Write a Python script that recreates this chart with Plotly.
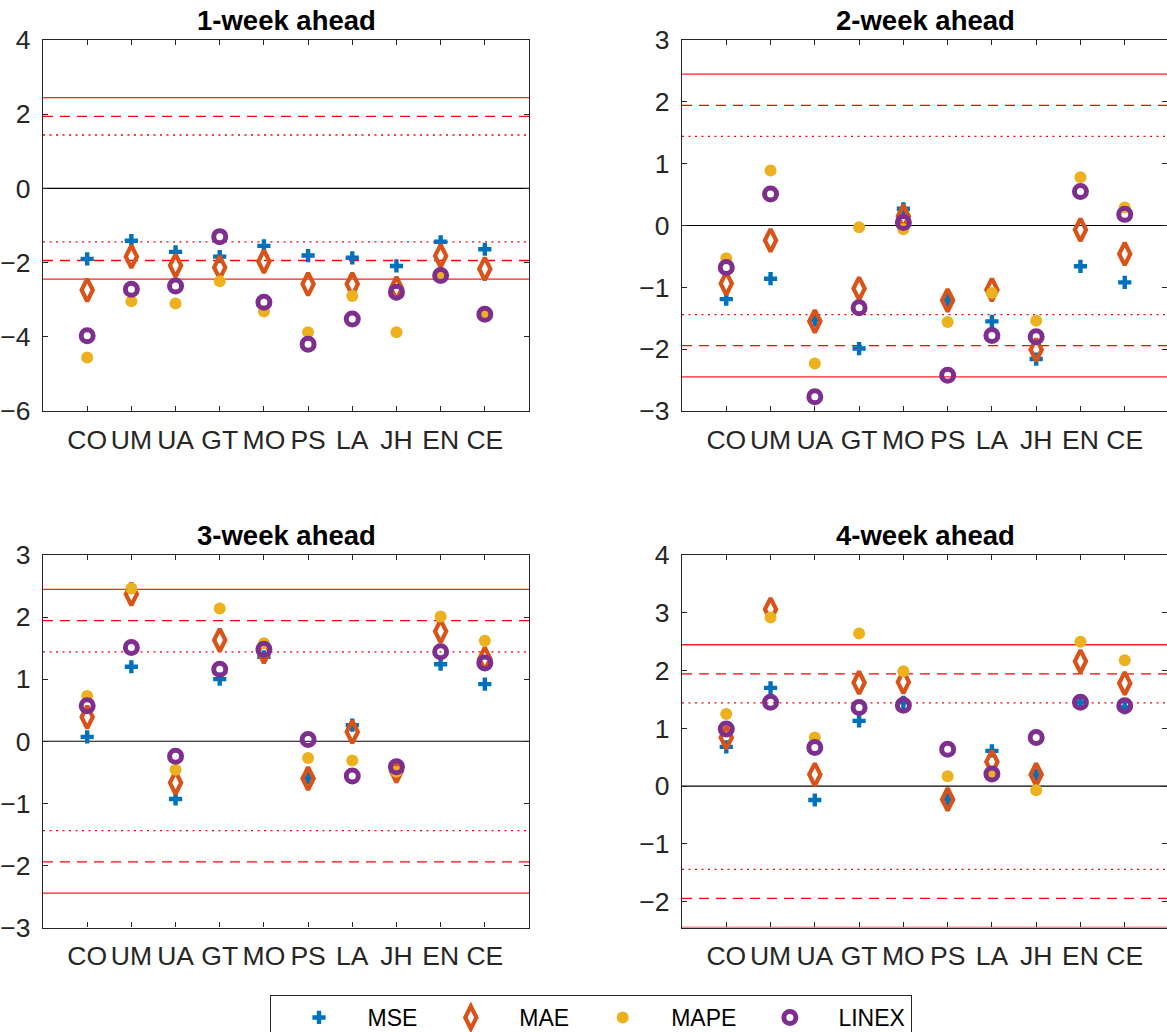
import plotly.graph_objects as go

# Forecast-comparison test statistics for ten models, four loss functions, four horizons
models = ["CO", "UM", "UA", "GT", "MO", "PS", "LA", "JH", "EN", "CE"]
horizons = ["1-week ahead", "2-week ahead", "3-week ahead", "4-week ahead"]

mse_1 = [-1.90, -1.41, -1.71, -1.84, -1.55, -1.81, -1.87, -2.09, -1.44, -1.64]
mae_1 = [-2.74, -1.84, -2.08, -2.13, -1.97, -2.58, -2.58, -2.69, -1.82, -2.17]
mape_1 = [-4.56, -3.04, -3.10, -2.50, -3.32, -3.88, -2.90, -3.88, -2.38, -3.33]
linex_1 = [-3.97, -2.72, -2.63, -1.30, -3.07, -4.20, -3.52, -2.80, -2.35, -3.39]

mse_2 = [-1.19, -0.86, -1.53, -1.99, 0.27, -1.21, -1.55, -2.16, -0.66, -0.92]
mae_2 = [-0.94, -0.24, -1.55, -1.02, 0.15, -1.21, -1.04, -2.01, -0.07, -0.46]
mape_2 = [-0.53, 0.89, -2.23, -0.03, -0.06, -1.56, -1.09, -1.54, 0.78, 0.29]
linex_2 = [-0.68, 0.51, -2.77, -1.33, 0.05, -2.42, -1.78, -1.80, 0.55, 0.18]

mse_3 = [0.07, 1.20, -0.93, 1.00, 1.36, -0.59, 0.26, -0.44, 1.24, 0.92]
mae_3 = [0.39, 2.37, -0.67, 1.63, 1.44, -0.60, 0.15, -0.48, 1.77, 1.33]
mape_3 = [0.73, 2.46, -0.46, 2.14, 1.58, -0.27, -0.31, -0.49, 2.01, 1.62]
linex_3 = [0.57, 1.51, -0.24, 1.16, 1.48, 0.03, -0.56, -0.41, 1.44, 1.26]

mse_4 = [0.68, 1.70, -0.24, 1.13, 1.45, -0.23, 0.61, 0.19, 1.45, 1.36]
mae_4 = [0.84, 3.06, 0.20, 1.79, 1.80, -0.23, 0.42, 0.20, 2.16, 1.78]
mape_4 = [1.25, 2.92, 0.84, 2.64, 1.99, 0.17, 0.21, -0.07, 2.50, 2.18]
linex_4 = [0.99, 1.45, 0.67, 1.36, 1.40, 0.64, 0.21, 0.84, 1.45, 1.39]

mse = [mse_1, mse_2, mse_3, mse_4]
mae = [mae_1, mae_2, mae_3, mae_4]
mape = [mape_1, mape_2, mape_3, mape_4]
linex = [linex_1, linex_2, linex_3, linex_4]

# Critical values (t distribution, 6 degrees of freedom)
crit_solid = 2.447
crit_dash = 1.943
crit_dot = 1.440

y_ranges = [[-6, 4], [-3, 3], [-3, 3], [-2.447, 4]]
y_ticks = [[-6, -4, -2, 0, 2, 4], [-3, -2, -1, 0, 1, 2, 3],
           [-3, -2, -1, 0, 1, 2, 3], [-2, -1, 0, 1, 2, 3, 4]]

W, H = 1167, 1032
FONT = "Liberation Sans"
TICK_FONT = "Liberation Sans Narrow, Liberation Sans"
AX_COLOR = "#262626"

# panel placement in pixels: (left, right, top, bottom)
left_x = (43, 529)
right_x = (682, 1167)
top_y = (40, 411)
bot_y = (555, 927.5)
panels = [(left_x, top_y), (right_x, top_y), (left_x, bot_y), (right_x, bot_y)]
# the right column is clipped by the page edge; keep the same x scale
x_full = 11.0
x_right_max = x_full * (1167 - 682) / (1169 - 682)

series = [
    ("MSE", mse, dict(symbol="cross", size=11, color="#0072BD", line=dict(width=0))),
    ("MAE", mae, dict(symbol="diamond-tall-open", size=16, color="#D95319",
                      line=dict(width=4.2, color="#D95319"))),
    ("MAPE", mape, dict(symbol="circle", size=12, color="#EDB120", line=dict(width=0))),
    ("LINEX", linex, dict(symbol="circle-open", size=12, color="#7E2F8E",
                          line=dict(width=5, color="#7E2F8E"))),
]

fig = go.Figure()
xpos = list(range(1, len(models) + 1))

for p in range(4):
    sfx = "" if p == 0 else str(p + 1)
    for name, data, marker in series:
        fig.add_trace(go.Scatter(
            x=xpos, y=data[p], mode="markers", name=name, marker=marker,
            xaxis="x" + sfx, yaxis="y" + sfx, showlegend=(p == 0),
            cliponaxis=False,
        ))

layout = dict(
    template="none",
    width=W, height=H, margin=dict(l=0, r=0, t=0, b=0, autoexpand=False),
    paper_bgcolor="white", plot_bgcolor="white",
    font=dict(family=FONT, size=25, color=AX_COLOR),
    showlegend=True,
    legend=dict(
        orientation="h", x=269.5 / W, xanchor="left", y=1 - 995 / H, yanchor="top",
        bordercolor=AX_COLOR, borderwidth=1, bgcolor="white",
        font=dict(family=FONT, size=23, color="black"), itemwidth=87,
    ),
)

shapes = []
annotations = []
for p, ((x0, x1), (y0, y1)) in enumerate(panels):
    sfx = "" if p == 0 else str(p + 1)
    xr = [0, x_right_max] if p in (1, 3) else [0, x_full]
    layout["xaxis" + sfx] = dict(
        domain=[x0 / W, x1 / W], range=xr, anchor="y" + sfx, automargin=False,
        tickmode="array", tickvals=xpos, ticktext=models,
        ticks="inside", ticklen=5, tickwidth=1, tickcolor=AX_COLOR,
        showline=True, linecolor=AX_COLOR, linewidth=1.3, mirror="ticks",
        showgrid=False, zeroline=False, ticklabelstandoff=5,
        tickfont=dict(family=TICK_FONT, size=26.5, color=AX_COLOR),
    )
    layout["yaxis" + sfx] = dict(
        domain=[1 - y1 / H, 1 - y0 / H], range=y_ranges[p], anchor="x" + sfx,
        automargin=False,
        tickmode="array", tickvals=y_ticks[p],
        ticks="inside", ticklen=5, tickwidth=1, tickcolor=AX_COLOR,
        showline=True, linecolor=AX_COLOR, linewidth=1.3, mirror="ticks",
        showgrid=False, zeroline=False, ticklabelstandoff=6,
        tickfont=dict(family=TICK_FONT, size=26.5, color=AX_COLOR),
    )
    xref = "x" + sfx + " domain"
    yref = "y" + sfx
    lines = [
        (0, "black", "solid", 1.2),
        (crit_solid, "#FF2020", "solid", 1.3), (-crit_solid, "#FF2020", "solid", 1.3),
        (crit_dash, "red", "10px,7px", 1.3), (-crit_dash, "red", "10px,7px", 1.3),
        (crit_dot, "red", "2px,4.5px", 1.3), (-crit_dot, "red", "2px,4.5px", 1.3),
    ]
    for yv, col, dash, w in lines:
        shapes.append(dict(type="line", xref=xref, yref=yref, x0=0, x1=1, y0=yv, y1=yv,
                           line=dict(color=col, width=w, dash=dash), layer="below"))
    annotations.append(dict(
        text=horizons[p], xref="paper", yref="paper",
        x=((left_x[0] + left_x[1]) / 2 if p in (0, 2) else (682 + 1169) / 2) / W,
        y=1 - (y0 - 20) / H, xanchor="center", yanchor="middle", showarrow=False,
        font=dict(family=FONT, size=27.5, color="black", weight="bold"),
    ))

layout["shapes"] = shapes
layout["annotations"] = annotations
fig.update_layout(**layout)
fig.write_html("out.html")
